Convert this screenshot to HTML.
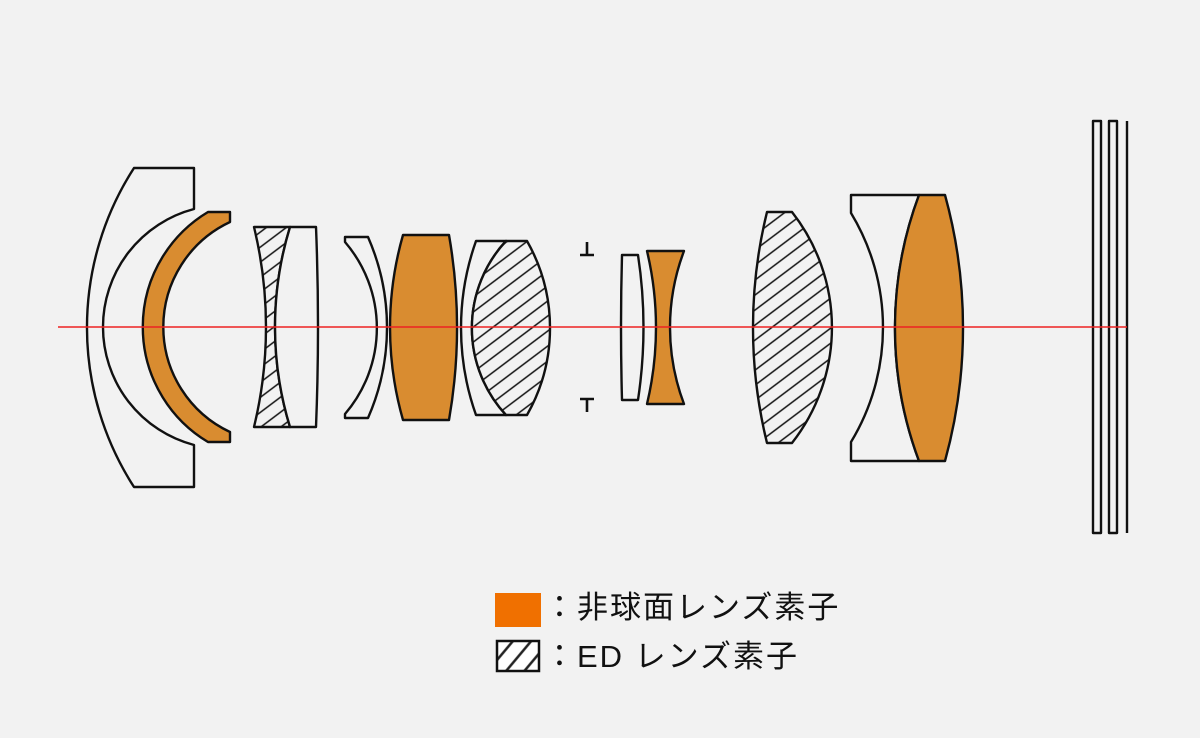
<!DOCTYPE html>
<html><head><meta charset="utf-8"><style>
html,body{margin:0;padding:0;background:#f2f2f2;}
svg{display:block}
text{font-family:"Liberation Sans","Noto Sans CJK JP",sans-serif;}
</style></head><body>
<svg width="1200" height="738" viewBox="0 0 1200 738" xmlns="http://www.w3.org/2000/svg">
<defs>
<pattern id="h" patternUnits="userSpaceOnUse" width="20" height="12" patternTransform="rotate(-37)">
<rect width="20" height="12" fill="#f2f2f2"/>
<line x1="0" y1="6" x2="20" y2="6" stroke="#111" stroke-width="1.6"/>
</pattern>
<pattern id="h2" patternUnits="userSpaceOnUse" width="20" height="14" patternTransform="rotate(-50)">
<rect width="20" height="14" fill="#fff"/>
<line x1="0" y1="7" x2="20" y2="7" stroke="#222" stroke-width="2.5"/>
</pattern>
</defs>
<rect width="1200" height="738" fill="#f2f2f2"/>
<g stroke="#111" stroke-width="2.4" stroke-linejoin="round" fill="none">
<path d="M134,168 L194,168 L194,209 A122,122 0 0 0 194,445 L194,487 L134,487 A294,294 0 0 1 134,168 Z" fill="#f2f2f2"/>
<path d="M208,212 L230,212 L230,222 A116,116 0 0 0 230,432 L230,442 L208,442 A134,134 0 0 1 208,212 Z" fill="#d98c30"/>
<path d="M254,227 L290,227 A341,341 0 0 0 290,427 L254,427 A423,423 0 0 0 254,227 Z" fill="url(#h)"/>
<path d="M290,227 L316,227 Q320,327 316,427 L290,427 A341,341 0 0 1 290,227 Z" fill="#f2f2f2"/>
<path d="M345,237 L368,237 A225,225 0 0 1 368,418 L345,418 L345,414 A132,132 0 0 0 345,242 Z" fill="#f2f2f2"/>
<path d="M403,235 L449,235 A539,539 0 0 1 449,420 L403,420 A336,336 0 0 1 403,235 Z" fill="#d98c30"/>
<path d="M476,241 L506,241 A128,128 0 0 0 506,415 L476,415 A260,260 0 0 1 476,241 Z" fill="#f2f2f2"/>
<path d="M506,241 L527,241 A176,176 0 0 1 527,415 L506,415 A128,128 0 0 1 506,241 Z" fill="url(#h)"/>
<path d="M587,242 L587,255 M580,255 L594,255 M587,399 L587,412 M580,399 L594,399" stroke-width="2.6"/>
<path d="M622,255 L638,255 Q649,327 638,400 L622,400 Q620,327 622,255 Z" fill="#f2f2f2"/>
<path d="M647,251 L684,251 A216,216 0 0 0 684,404 L647,404 A330,330 0 0 0 647,251 Z" fill="#d98c30"/>
<path d="M767,212 L792,212 A187,187 0 0 1 792,443 L767,443 A483,483 0 0 1 767,212 Z" fill="url(#h)"/>
<path d="M851,195 L919,195 A380,380 0 0 0 919,461 L851,461 L851,442 A221,221 0 0 0 851,213 Z" fill="#f2f2f2"/>
<path d="M919,195 L945,195 A500,500 0 0 1 945,461 L919,461 A380,380 0 0 1 919,195 Z" fill="#d98c30"/>
<rect x="1093" y="121" width="8" height="412" fill="#f2f2f2"/>
<rect x="1109" y="121" width="8" height="412" fill="#f2f2f2"/>
<line x1="1127" y1="121" x2="1127" y2="533"/>
</g>
<line x1="58" y1="327" x2="1127" y2="327" stroke="#ee2222" stroke-width="1.5"/>
<rect x="495" y="593" width="46" height="34" fill="#f07000"/>
<rect x="497" y="641" width="42" height="30" fill="url(#h2)" stroke="#111" stroke-width="2.5"/>
<text x="544" y="618" font-size="31" letter-spacing="2" fill="#111">：非球面レンズ素子</text>
<text x="544" y="667" font-size="31" letter-spacing="2" fill="#111">：ED レンズ素子</text>
</svg>
</body></html>
